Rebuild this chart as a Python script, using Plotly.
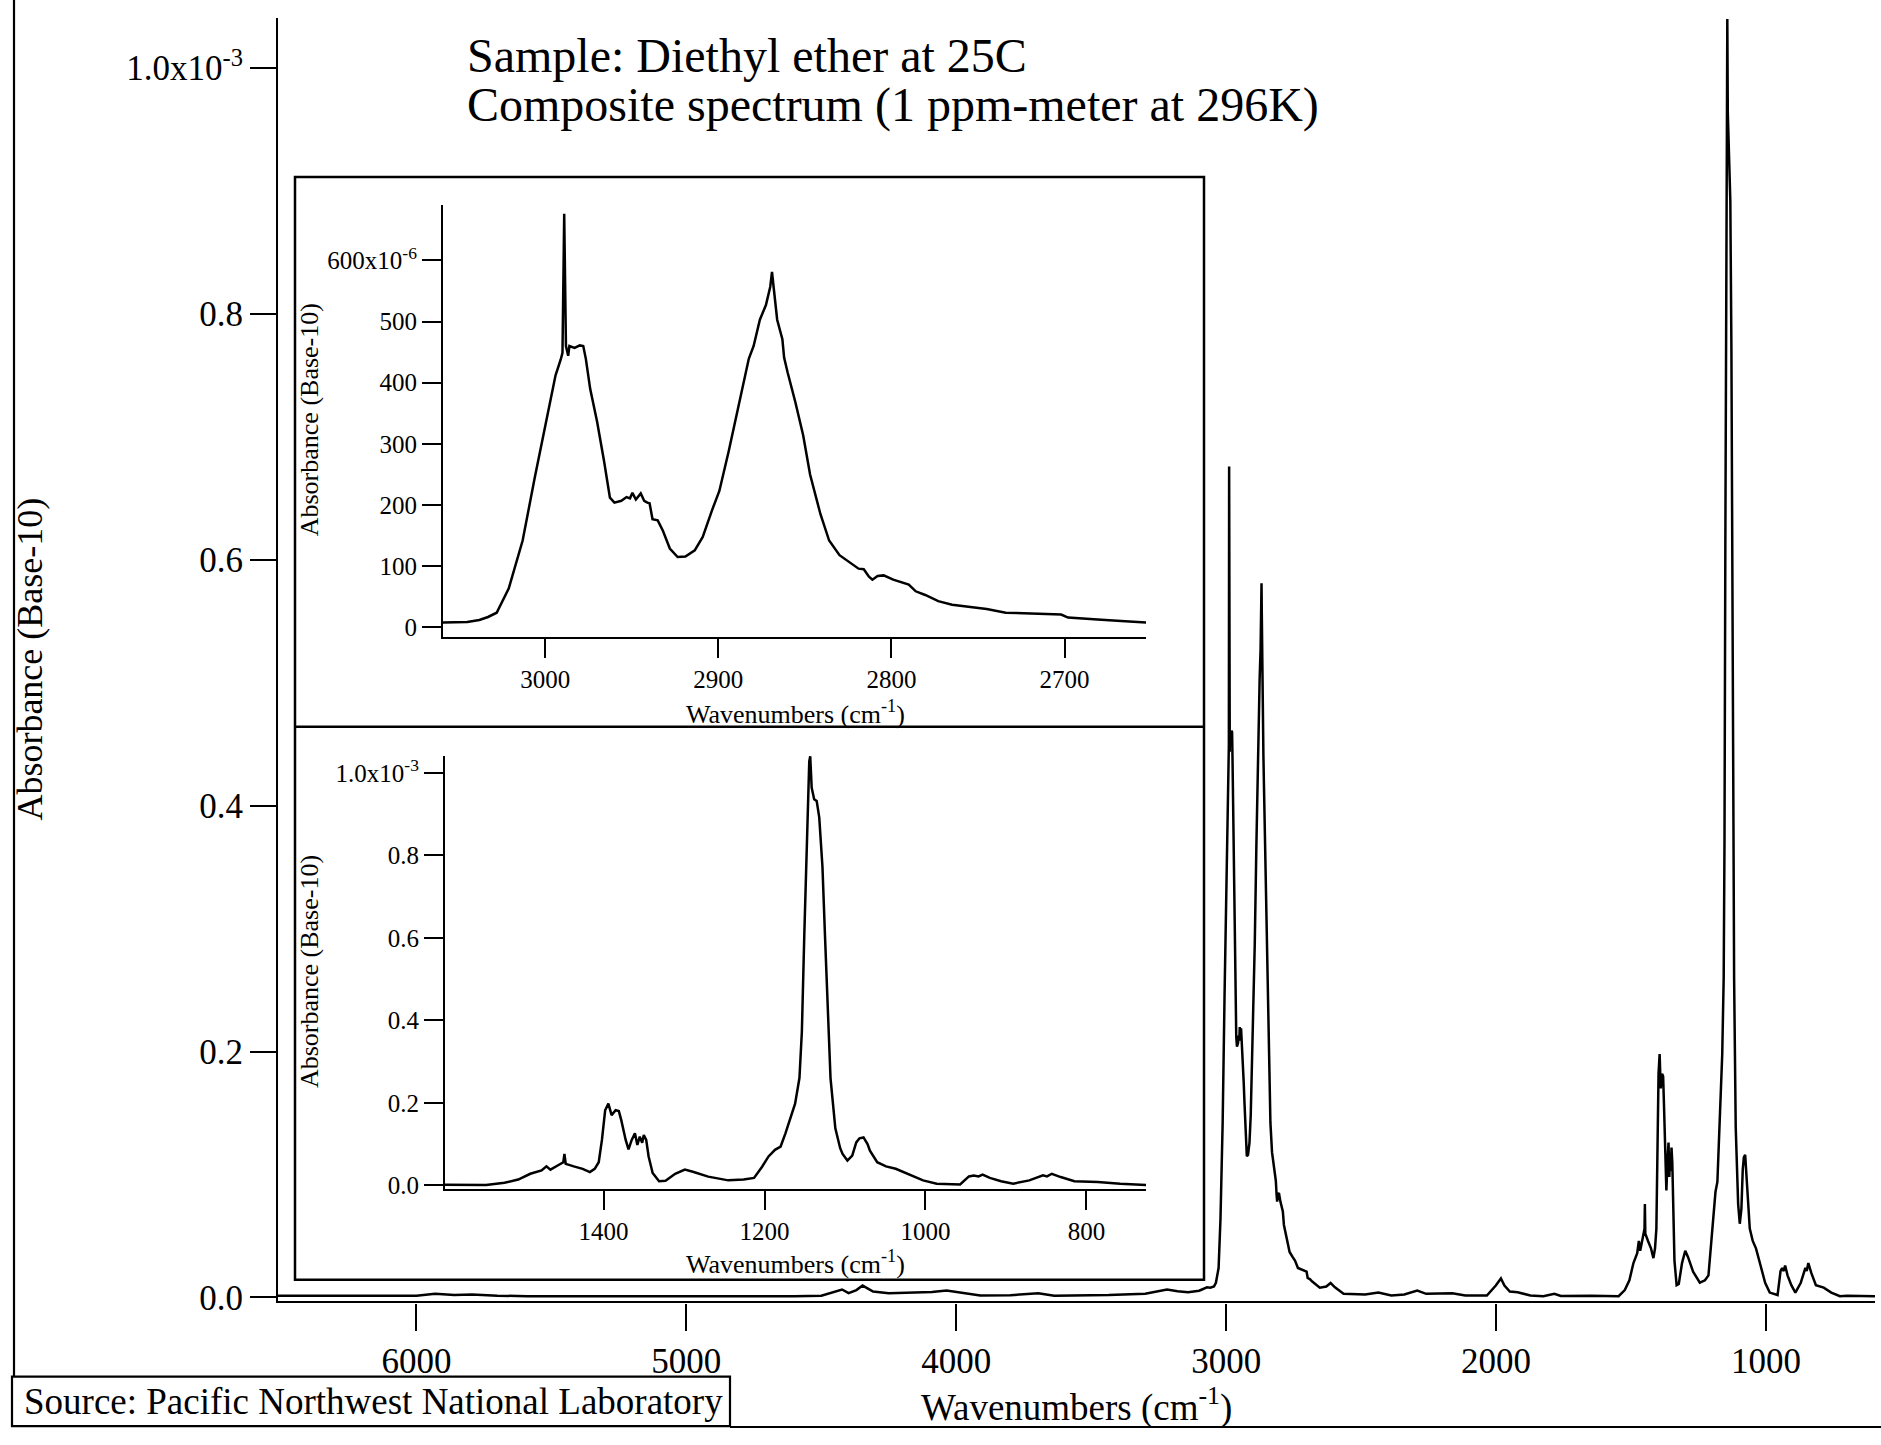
import plotly.graph_objects as go

# ---------------- data (absorbance in units of 1e-6) ----------------
wavenumber = [
    6513, 6400, 6250, 6100, 6000, 5931, 5860, 5794, 5700, 5590, 5400, 5200, 5000, 4800,
    4600, 4500, 4457, 4423, 4399, 4370, 4347, 4325, 4308, 4250, 4160, 4090, 4036, 3978,
    3911, 3800, 3696, 3637, 3500, 3435, 3300, 3219, 3180, 3141, 3100, 3071,
    3059, 3045, 3038, 3033, 3028, 3021, 3013, 3006, 3000, 2994, 2991, 2990, 2989, 2988,
    2986.7, 2986, 2983, 2980, 2978, 2976.5, 2974, 2970, 2966, 2962.6, 2960, 2956, 2953,
    2951, 2949.6, 2947.6, 2944.8, 2942.8, 2941, 2939.7, 2938, 2935, 2932, 2928, 2923.5,
    2919, 2913.6, 2909, 2903.7, 2899.4, 2894, 2888, 2882.4, 2879.6, 2876, 2872.5, 2870,
    2869, 2868, 2866, 2863, 2862, 2860, 2855.5, 2851, 2847, 2841, 2836, 2830, 2824, 2819,
    2816, 2813, 2811, 2808, 2804.5, 2799, 2790, 2786, 2780.5, 2773, 2765, 2754, 2745,
    2734, 2715, 2702, 2698, 2690, 2681, 2665, 2653,
    2629, 2613, 2597, 2565, 2485, 2436, 2388, 2340, 2292, 2259, 2162, 2114, 2034, 2001,
    1982, 1969, 1949, 1920, 1873, 1825, 1784, 1760, 1647, 1597,
    1591, 1546, 1523, 1506, 1491, 1477, 1471, 1466, 1457, 1450, 1448.6, 1447, 1437, 1426,
    1417, 1411, 1406, 1402, 1398, 1394, 1390, 1385, 1381, 1378, 1372.5, 1369, 1365, 1361,
    1358, 1355, 1352, 1350, 1347, 1344, 1339, 1331, 1323, 1311, 1299, 1289, 1270, 1245,
    1226, 1213, 1203, 1195, 1187, 1180, 1174, 1162, 1156.6, 1153.6, 1150.5, 1147.5,
    1144.4, 1143.2, 1141.4, 1138.3, 1135.2, 1132, 1128, 1125, 1121, 1118, 1112, 1106,
    1103, 1097, 1091, 1086, 1082, 1077, 1072, 1069, 1060, 1049, 1037, 1020, 1003, 986,
    957, 946, 940, 934, 929, 920, 906, 891, 871, 854, 849, 843, 832, 815, 786, 758, 726,
    700, 650, 596,
]
absorbance = [
    1.5, 1.5, 1, 1.5, 1.5, 3, 2, 2.5, 1.5, 1, 1, 0.5, 0.5, 0.5,
    1, 1.5, 4, 6.5, 3.6, 6, 9.7, 7, 4.8, 3.5, 3.8, 4.5, 5.6, 3.5,
    1.6, 1.8, 3.5, 1.5, 1.5, 2, 3, 6.4, 5, 4.3, 5.5, 8.3,
    8, 9, 12, 17, 24, 64, 142, 245, 331, 412, 438, 449, 676, 460,
    444, 460, 457, 461, 460, 439, 390, 336, 272, 212, 204, 207, 213,
    211, 220, 209, 219, 207, 204, 203, 177, 175, 158, 129, 115,
    116, 126, 148, 191, 223, 288, 368, 439, 460, 503, 527, 557,
    581, 557, 503, 471, 441, 417, 368, 314, 250, 185, 142, 118, 106, 96,
    95, 83, 78, 84, 85, 78, 70, 59, 53, 43, 37, 33, 30,
    24, 22, 21, 16, 15, 13, 10, 8,
    8.9, 11.8, 8.3, 3, 2.4, 4, 1.6, 2.4, 5.6, 3, 3.5, 1.6, 1.6, 9.7,
    15.5, 9.7, 4.8, 4.3, 1.6, 1.1, 3, 1.2, 1.5, 1.5,
    1, 1, 6, 14, 28, 36, 46, 38, 48, 56, 76, 52, 46, 40,
    32, 40, 56, 110, 182, 198, 170, 182, 180, 158, 110, 87, 110, 126,
    98, 118, 103, 122, 110, 70, 30, 10, 11, 28, 38, 33, 21, 12,
    14, 18, 45, 70, 86, 94, 126, 198, 260, 372, 612, 852,
    1028, 1040, 964, 936, 932, 892, 772, 612, 412, 260, 138, 90,
    76, 60, 72, 104, 114, 116, 100, 84, 56, 46, 40, 26, 12, 4,
    2, 21.5, 24, 21.5, 26, 18, 10, 4, 12, 24, 21.5, 28, 20, 10, 8, 4, 1,
    1.5, 1, 1,
]

main_xticks = [6000, 5000, 4000, 3000, 2000, 1000]
main_yticks = [0, 200, 400, 600, 800, 1000]
main_ytext = ["0.0", "0.2", "0.4", "0.6", "0.8", "1.0x10<sup>-3</sup>"]
upper_xticks = [3000, 2900, 2800, 2700]
upper_yticks = [0, 100, 200, 300, 400, 500, 600]
upper_ytext = ["0", "100", "200", "300", "400", "500", "600x10<sup>-6</sup>"]
lower_xticks = [1400, 1200, 1000, 800]
lower_yticks = [0, 200, 400, 600, 800, 1000]
lower_ytext = ["0.0", "0.2", "0.4", "0.6", "0.8", "1.0x10<sup>-3</sup>"]

title_lines = ["Sample: Diethyl ether at 25C", "Composite spectrum (1 ppm-meter at 296K)"]
axis_title_x = "Wavenumbers (cm<sup>-1</sup>)"
axis_title_y = "Absorbance (Base-10)"
source_text = "Source: Pacific Northwest National Laboratory"

# ---------------- layout helpers ----------------
W, H = 1881, 1445
FONT = "Liberation Serif"


def px(x):
    return x / W


def py(y):
    return 1 - y / H


line_style = dict(color="black", width=2.5)

fig = go.Figure()
for xa, ya in [("x", "y"), ("x2", "y2"), ("x3", "y3")]:
    fig.add_trace(go.Scatter(x=wavenumber, y=absorbance, mode="lines", line=line_style,
                             xaxis=xa, yaxis=ya, showlegend=False, hoverinfo="skip"))


def axis_common(size, ticklen):
    return dict(showline=True, linecolor="black", linewidth=2.2, ticks="outside",
                ticklen=ticklen, tickwidth=2.2, tickcolor="black", showgrid=False,
                zeroline=False, tickfont=dict(family=FONT, size=size, color="black"))


fig.update_layout(
    width=W, height=H, autosize=False,
    margin=dict(l=0, r=0, t=0, b=0, pad=0),
    paper_bgcolor="white", plot_bgcolor="rgba(0,0,0,0)",
    font=dict(family=FONT, color="black"),
    showlegend=False,
    xaxis=dict(domain=[px(278), px(1875)], range=[6513, 596], anchor="y",
               tickvals=main_xticks, **axis_common(35, 27)),
    yaxis=dict(domain=[py(1316), py(18)], range=[-3.2, 1041], anchor="x",
               tickvals=main_yticks, ticktext=main_ytext, **axis_common(35, 26)),
    xaxis2=dict(domain=[px(443), px(1146)], range=[3059, 2653], anchor="y2",
                tickvals=upper_xticks, **axis_common(25, 19)),
    yaxis2=dict(domain=[py(644), py(207)], range=[-15.5, 691], anchor="x2",
                tickvals=upper_yticks, ticktext=upper_ytext, **axis_common(25, 19)),
    xaxis3=dict(domain=[px(445), px(1146)], range=[1597, 726], anchor="y3",
                tickvals=lower_xticks, **axis_common(25, 19)),
    yaxis3=dict(domain=[py(1202), py(764)], range=[-8.2, 1042], anchor="x3",
                tickvals=lower_yticks, ticktext=lower_ytext, **axis_common(25, 19)),
)

shapes = [
    dict(type="rect", xref="paper", yref="paper", x0=px(295), x1=px(1204), y0=py(1294), y1=py(179),
         line=dict(color="black", width=2.5), fillcolor="rgba(0,0,0,0)"),
    dict(type="line", xref="paper", yref="paper", x0=px(295), x1=px(1204), y0=py(735), y1=py(735),
         line=dict(color="black", width=2.5)),
    dict(type="line", xref="paper", yref="paper", x0=px(14), x1=px(14), y0=py(0), y1=py(1392),
         line=dict(color="black", width=2.2)),
    dict(type="rect", xref="paper", yref="paper", x0=px(12), x1=px(730), y0=py(1442), y1=py(1392),
         line=dict(color="black", width=2.2), fillcolor="rgba(0,0,0,0)"),
    dict(type="line", xref="paper", yref="paper", x0=px(730), x1=px(1881), y0=py(1443), y1=py(1443),
         line=dict(color="black", width=2.2)),
]
fig.update_layout(shapes=shapes)


def ann(text, x, y, size, xanchor="center", angle=0, yanchor="middle", borderpad=1):
    return dict(text=text, x=x, y=y, xref="paper", yref="paper", showarrow=False,
                xanchor=xanchor, yanchor=yanchor, textangle=angle, borderpad=borderpad,
                font=dict(family=FONT, size=size, color="black"))


annotations = [
    ann(title_lines[0], px(466), py(56), 48, xanchor="left", borderpad=0),
    ann(title_lines[1], px(466), py(106), 48, xanchor="left", borderpad=0),
    ann(axis_title_y, px(30), py(667), 36, angle=-90),
    ann(axis_title_x, px(1076), py(1421), 37),
    ann(axis_title_x, px(795), py(720), 26),
    ann(axis_title_y, px(309), py(425), 26, angle=-90),
    ann(axis_title_x, px(795), py(1277), 26),
    ann(axis_title_y, px(309), py(983), 26, angle=-90),
    ann(source_text, px(22), py(1417), 37, xanchor="left"),
]
fig.update_layout(annotations=annotations)

fig.write_html(
    "out.html",
    config={"displayModeBar": False},
    post_script="document.body.style.margin='0';document.body.style.overflow='hidden';",
)
